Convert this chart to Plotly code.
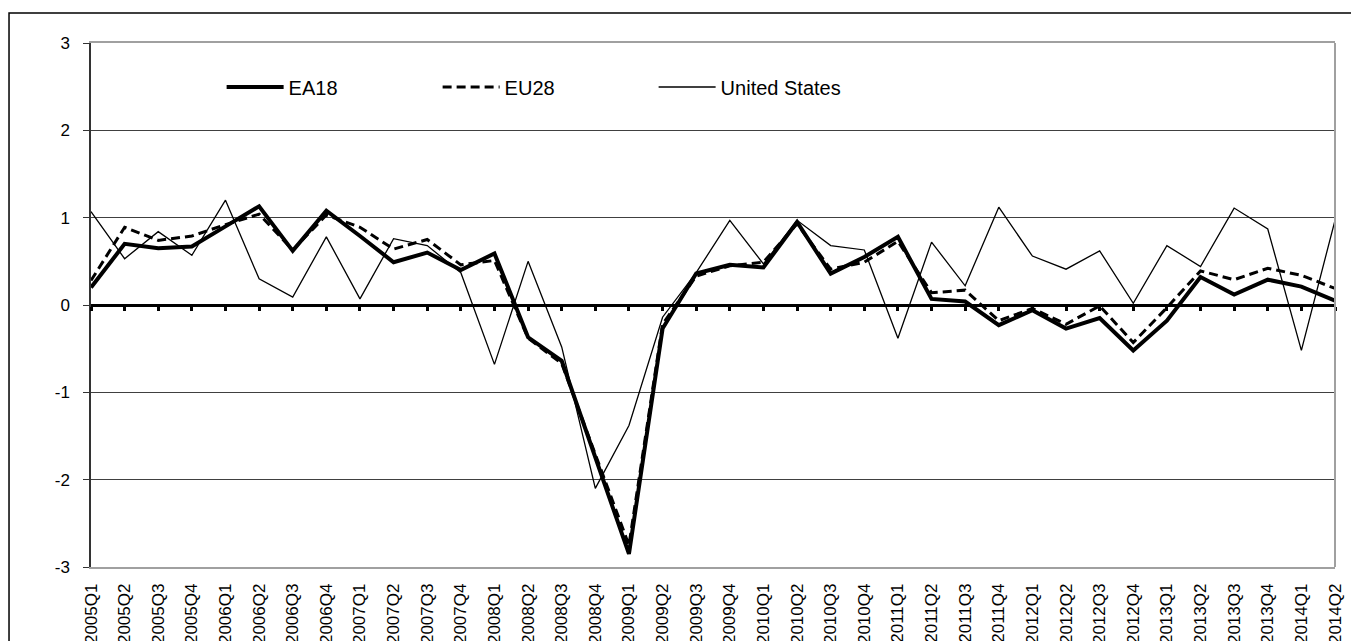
import plotly.graph_objects as go

quarters = [f"{y}Q{q}" for y in range(2005, 2015) for q in range(1, 5)][:38]

ea18 = [0.20, 0.70, 0.65, 0.67, 0.90, 1.13, 0.62, 1.08, 0.79, 0.49, 0.60, 0.40,
        0.59, -0.37, -0.64, -1.74, -2.85, -0.27, 0.36, 0.46, 0.43, 0.95, 0.36, 0.55,
        0.78, 0.07, 0.04, -0.23, -0.06, -0.27, -0.15, -0.52, -0.18, 0.32, 0.12, 0.29,
        0.21, 0.05]
eu28 = [0.28, 0.89, 0.74, 0.79, 0.92, 1.04, 0.63, 1.03, 0.89, 0.64, 0.75, 0.46,
        0.51, -0.38, -0.67, -1.72, -2.75, -0.22, 0.33, 0.45, 0.49, 0.93, 0.41, 0.49,
        0.73, 0.14, 0.17, -0.18, -0.04, -0.22, -0.01, -0.43, -0.03, 0.39, 0.29, 0.42,
        0.34, 0.19]
us = [1.07, 0.53, 0.84, 0.57, 1.20, 0.30, 0.09, 0.78, 0.07, 0.76, 0.68, 0.37,
      -0.68, 0.50, -0.48, -2.10, -1.38, -0.14, 0.37, 0.97, 0.47, 0.97, 0.68, 0.63,
      -0.38, 0.72, 0.22, 1.12, 0.56, 0.41, 0.62, 0.02, 0.68, 0.44, 1.11, 0.87,
      -0.52, 0.97]

y_ticks = [-3, -2, -1, 0, 1, 2, 3]
y_ticktext = ["-3", "-2", "-1", "0", "1", "2", "3"]

FONT = "Arial, Liberation Sans, sans-serif"

fig = go.Figure()
fig.add_trace(go.Scatter(x=quarters, y=ea18, name="EA18", mode="lines",
                         line=dict(color="black", width=4)))
fig.add_trace(go.Scatter(x=quarters, y=eu28, name="EU28", mode="lines",
                         line=dict(color="black", width=3, dash="9px,5px")))
fig.add_trace(go.Scatter(x=quarters, y=us, name="United States", mode="lines",
                         line=dict(color="black", width=1.3)))
# carrier trace so the category axis drawn at zero (with its tick marks) is rendered
fig.add_trace(go.Scatter(x=[0, len(quarters) - 1], y=[None, None], xaxis="x2",
                         mode="lines", showlegend=False, hoverinfo="skip"))

fig.update_layout(
    width=1351, height=633,
    margin=dict(l=83, r=24, t=35, b=74),
    paper_bgcolor="white", plot_bgcolor="white",
    font=dict(family=FONT, color="black", size=17),
    showlegend=True,
    legend=dict(orientation="h", x=0.105, y=0.916, xanchor="left", yanchor="middle",
                font=dict(size=20, family=FONT), itemwidth=57,
                entrywidth=144, bgcolor="rgba(0,0,0,0)"),
    xaxis=dict(type="category", range=[0, 37], showgrid=False, ticks="",
               tickangle=-90, tickfont=dict(size=17), showline=True,
               linecolor="#a0a0a0", linewidth=1.5, mirror=True,
               ticklabelstandoff=8, zeroline=False, automargin=False),
    xaxis2=dict(type="linear", range=[0, 37], overlaying="x", anchor="free",
                position=0.5, side="bottom", tickvals=list(range(38)),
                ticks="outside", ticklen=4, tickwidth=3, tickcolor="black",
                showticklabels=False, showline=True, linecolor="black",
                linewidth=3, showgrid=False, zeroline=False, automargin=False),
    yaxis=dict(range=[-3, 3], tickvals=y_ticks, ticktext=y_ticktext, showgrid=True,
               gridcolor="#404040", gridwidth=1, zeroline=True,
               zerolinecolor="black", zerolinewidth=3,
               ticks="outside", ticklen=6, tickcolor="#333", showline=True,
               linecolor="#333", linewidth=1.5, tickfont=dict(size=17),
               ticklabelstandoff=10, automargin=False),
    shapes=[
        dict(type="line", xref="paper", yref="paper", x0=1, x1=1, y0=0, y1=1,
             line=dict(color="#a0a0a0", width=2)),
        dict(type="rect", xref="paper", yref="paper", x0=-0.0659, x1=1.0175,
             y0=-0.2, y1=1.0573, line=dict(color="black", width=1.5)),
    ],
)

fig.write_html("out.html")
